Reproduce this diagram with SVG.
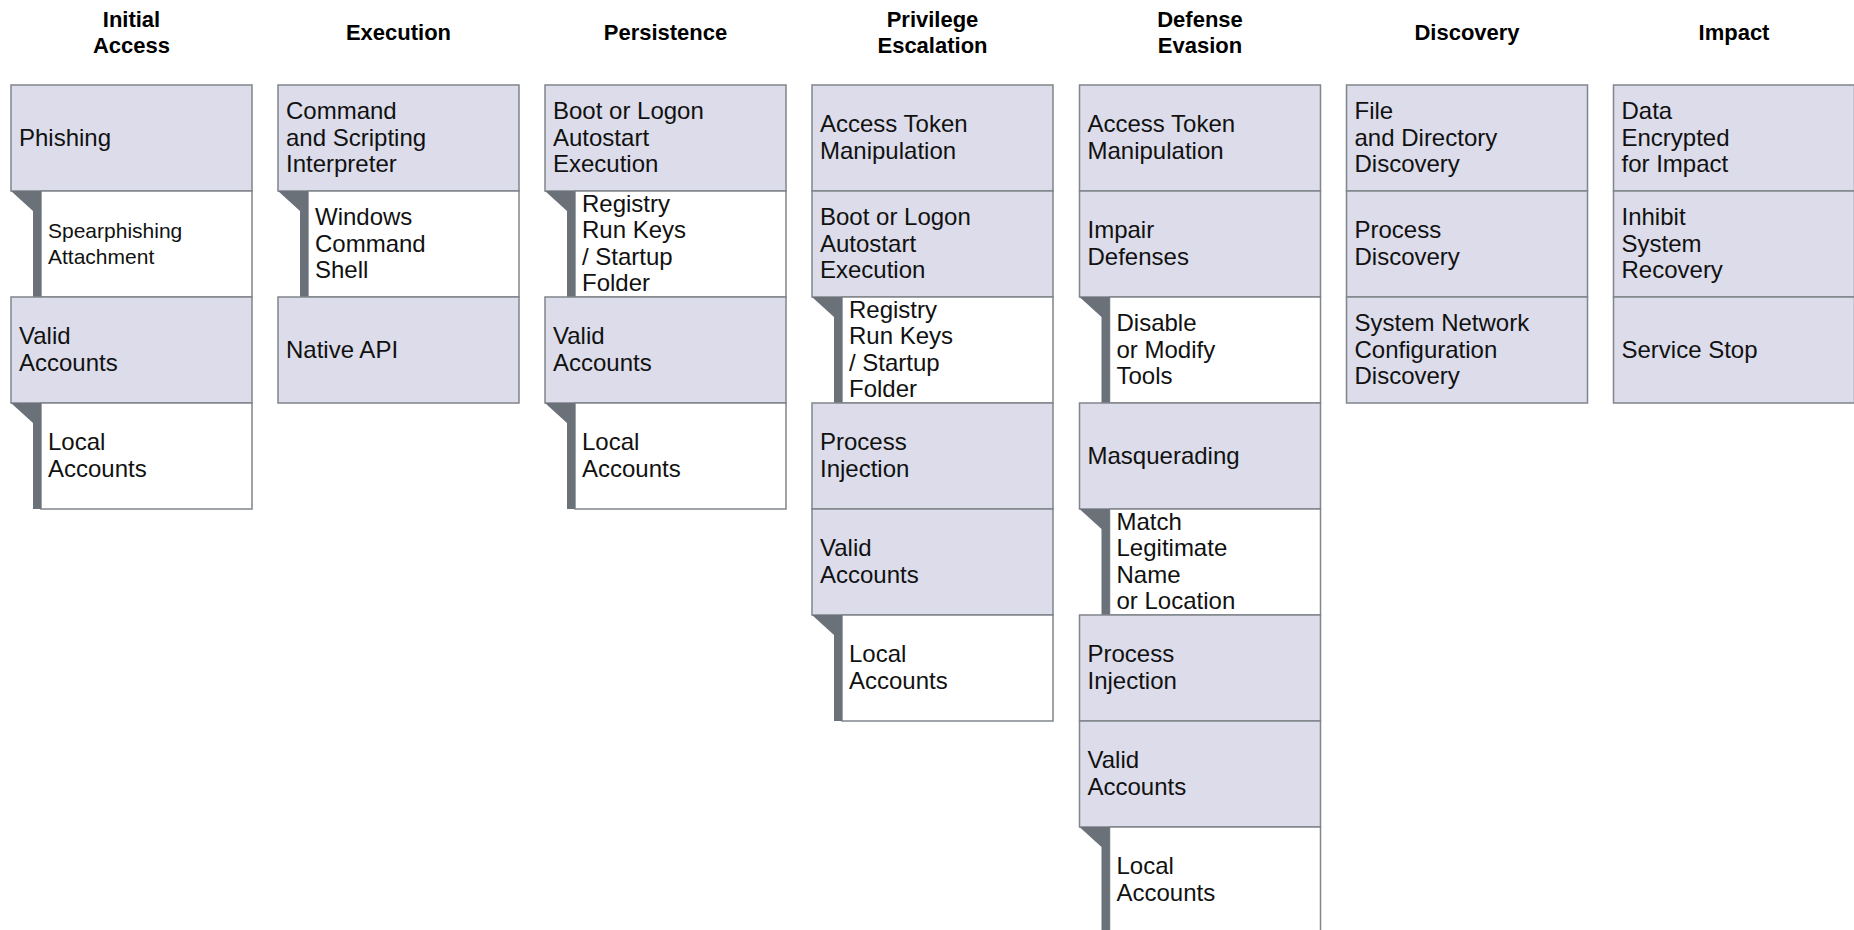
<svg xmlns="http://www.w3.org/2000/svg" width="1854" height="930" viewBox="0 0 1854 930">
<style>
.t{fill:#dcdcea;stroke:#80858b;stroke-width:1.5}
.s{fill:#ffffff;stroke:#80858b;stroke-width:1.5}
.bar{fill:#6b7179}
.lbl{font-family:"Liberation Sans",Arial,sans-serif;font-size:24px;fill:#111111}
.sm{font-size:21px}
.hdr{font-family:"Liberation Sans",Arial,sans-serif;font-size:22px;font-weight:bold;fill:#000000;text-anchor:middle}
</style>
<rect width="1854" height="930" fill="#ffffff"/>
<g id="headers">
<text class="hdr" x="131.5" y="26.5">Initial<tspan x="131.5" dy="26.5">Access</tspan></text>
<text class="hdr" x="398.5" y="39.5">Execution</text>
<text class="hdr" x="665.5" y="39.5">Persistence</text>
<text class="hdr" x="932.5" y="26.5">Privilege<tspan x="932.5" dy="26.5">Escalation</tspan></text>
<text class="hdr" x="1200" y="26.5">Defense<tspan x="1200" dy="26.5">Evasion</tspan></text>
<text class="hdr" x="1467" y="39.5">Discovery</text>
<text class="hdr" x="1734" y="39.5">Impact</text>
</g>
<g id="connectors"></g>

<!-- Initial Access -->
<g id="ia-phishing"><rect class="t" x="11" y="85" width="241" height="106"/><text class="lbl" x="19" y="145.5">Phishing</text></g>
<g id="ia-spearphishing"><rect class="s" x="41" y="191" width="211" height="106"/><polygon class="bar" points="11,191 41,191 41,297 33,297 33,211"/><text class="lbl sm" x="48" y="238.25">Spearphishing<tspan x="48" dy="26">Attachment</tspan></text></g>
<g id="ia-valid"><rect class="t" x="11" y="297" width="241" height="106"/><text class="lbl" x="19" y="344.25">Valid<tspan x="19" dy="26.5">Accounts</tspan></text></g>
<g id="ia-local"><rect class="s" x="41" y="403" width="211" height="106"/><polygon class="bar" points="11,403 41,403 41,509 33,509 33,423"/><text class="lbl" x="48" y="450.25">Local<tspan x="48" dy="26.5">Accounts</tspan></text></g>

<!-- Execution -->
<g id="ex-cmd"><rect class="t" x="278" y="85" width="241" height="106"/><text class="lbl" x="286" y="119">Command<tspan x="286" dy="26.5">and Scripting</tspan><tspan x="286" dy="26.5">Interpreter</tspan></text></g>
<g id="ex-wincmd"><rect class="s" x="308" y="191" width="211" height="106"/><polygon class="bar" points="278,191 308,191 308,297 300,297 300,211"/><text class="lbl" x="315" y="225">Windows<tspan x="315" dy="26.5">Command</tspan><tspan x="315" dy="26.5">Shell</tspan></text></g>
<g id="ex-native"><rect class="t" x="278" y="297" width="241" height="106"/><text class="lbl" x="286" y="357.5">Native API</text></g>

<!-- Persistence -->
<g id="pe-boot"><rect class="t" x="545" y="85" width="241" height="106"/><text class="lbl" x="553" y="119">Boot or Logon<tspan x="553" dy="26.5">Autostart</tspan><tspan x="553" dy="26.5">Execution</tspan></text></g>
<g id="pe-registry"><rect class="s" x="575" y="191" width="211" height="106"/><polygon class="bar" points="545,191 575,191 575,297 567,297 567,211"/><text class="lbl" x="582" y="211.75">Registry<tspan x="582" dy="26.5">Run Keys</tspan><tspan x="582" dy="26.5">/ Startup</tspan><tspan x="582" dy="26.5">Folder</tspan></text></g>
<g id="pe-valid"><rect class="t" x="545" y="297" width="241" height="106"/><text class="lbl" x="553" y="344.25">Valid<tspan x="553" dy="26.5">Accounts</tspan></text></g>
<g id="pe-local"><rect class="s" x="575" y="403" width="211" height="106"/><polygon class="bar" points="545,403 575,403 575,509 567,509 567,423"/><text class="lbl" x="582" y="450.25">Local<tspan x="582" dy="26.5">Accounts</tspan></text></g>

<!-- Privilege Escalation -->
<g id="pr-token"><rect class="t" x="812" y="85" width="241" height="106"/><text class="lbl" x="820" y="132.25">Access Token<tspan x="820" dy="26.5">Manipulation</tspan></text></g>
<g id="pr-boot"><rect class="t" x="812" y="191" width="241" height="106"/><text class="lbl" x="820" y="225">Boot or Logon<tspan x="820" dy="26.5">Autostart</tspan><tspan x="820" dy="26.5">Execution</tspan></text></g>
<g id="pr-registry"><rect class="s" x="842" y="297" width="211" height="106"/><polygon class="bar" points="812,297 842,297 842,403 834,403 834,317"/><text class="lbl" x="849" y="317.75">Registry<tspan x="849" dy="26.5">Run Keys</tspan><tspan x="849" dy="26.5">/ Startup</tspan><tspan x="849" dy="26.5">Folder</tspan></text></g>
<g id="pr-inject"><rect class="t" x="812" y="403" width="241" height="106"/><text class="lbl" x="820" y="450.25">Process<tspan x="820" dy="26.5">Injection</tspan></text></g>
<g id="pr-valid"><rect class="t" x="812" y="509" width="241" height="106"/><text class="lbl" x="820" y="556.25">Valid<tspan x="820" dy="26.5">Accounts</tspan></text></g>
<g id="pr-local"><rect class="s" x="842" y="615" width="211" height="106"/><polygon class="bar" points="812,615 842,615 842,721 834,721 834,635"/><text class="lbl" x="849" y="662.25">Local<tspan x="849" dy="26.5">Accounts</tspan></text></g>

<!-- Defense Evasion -->
<g id="de-token"><rect class="t" x="1079.5" y="85" width="241" height="106"/><text class="lbl" x="1087.5" y="132.25">Access Token<tspan x="1087.5" dy="26.5">Manipulation</tspan></text></g>
<g id="de-impair"><rect class="t" x="1079.5" y="191" width="241" height="106"/><text class="lbl" x="1087.5" y="238.25">Impair<tspan x="1087.5" dy="26.5">Defenses</tspan></text></g>
<g id="de-disable"><rect class="s" x="1109.5" y="297" width="211" height="106"/><polygon class="bar" points="1079.5,297 1109.5,297 1109.5,403 1101.5,403 1101.5,317"/><text class="lbl" x="1116.5" y="331">Disable<tspan x="1116.5" dy="26.5">or Modify</tspan><tspan x="1116.5" dy="26.5">Tools</tspan></text></g>
<g id="de-masq"><rect class="t" x="1079.5" y="403" width="241" height="106"/><text class="lbl" x="1087.5" y="463.5">Masquerading</text></g>
<g id="de-match"><rect class="s" x="1109.5" y="509" width="211" height="106"/><polygon class="bar" points="1079.5,509 1109.5,509 1109.5,615 1101.5,615 1101.5,529"/><text class="lbl" x="1116.5" y="529.75">Match<tspan x="1116.5" dy="26.5">Legitimate</tspan><tspan x="1116.5" dy="26.5">Name</tspan><tspan x="1116.5" dy="26.5">or Location</tspan></text></g>
<g id="de-inject"><rect class="t" x="1079.5" y="615" width="241" height="106"/><text class="lbl" x="1087.5" y="662.25">Process<tspan x="1087.5" dy="26.5">Injection</tspan></text></g>
<g id="de-valid"><rect class="t" x="1079.5" y="721" width="241" height="106"/><text class="lbl" x="1087.5" y="768.25">Valid<tspan x="1087.5" dy="26.5">Accounts</tspan></text></g>
<g id="de-local"><rect class="s" x="1109.5" y="827" width="211" height="106"/><polygon class="bar" points="1079.5,827 1109.5,827 1109.5,933 1101.5,933 1101.5,847"/><text class="lbl" x="1116.5" y="874.25">Local<tspan x="1116.5" dy="26.5">Accounts</tspan></text></g>

<!-- Discovery -->
<g id="di-file"><rect class="t" x="1346.5" y="85" width="241" height="106"/><text class="lbl" x="1354.5" y="119">File<tspan x="1354.5" dy="26.5">and Directory</tspan><tspan x="1354.5" dy="26.5">Discovery</tspan></text></g>
<g id="di-process"><rect class="t" x="1346.5" y="191" width="241" height="106"/><text class="lbl" x="1354.5" y="238.25">Process<tspan x="1354.5" dy="26.5">Discovery</tspan></text></g>
<g id="di-network"><rect class="t" x="1346.5" y="297" width="241" height="106"/><text class="lbl" x="1354.5" y="331">System Network<tspan x="1354.5" dy="26.5">Configuration</tspan><tspan x="1354.5" dy="26.5">Discovery</tspan></text></g>

<!-- Impact -->
<g id="im-encrypt"><rect class="t" x="1613.5" y="85" width="241" height="106"/><text class="lbl" x="1621.5" y="119">Data<tspan x="1621.5" dy="26.5">Encrypted</tspan><tspan x="1621.5" dy="26.5">for Impact</tspan></text></g>
<g id="im-inhibit"><rect class="t" x="1613.5" y="191" width="241" height="106"/><text class="lbl" x="1621.5" y="225">Inhibit<tspan x="1621.5" dy="26.5">System</tspan><tspan x="1621.5" dy="26.5">Recovery</tspan></text></g>
<g id="im-stop"><rect class="t" x="1613.5" y="297" width="241" height="106"/><text class="lbl" x="1621.5" y="357.5">Service Stop</text></g>
</svg>
